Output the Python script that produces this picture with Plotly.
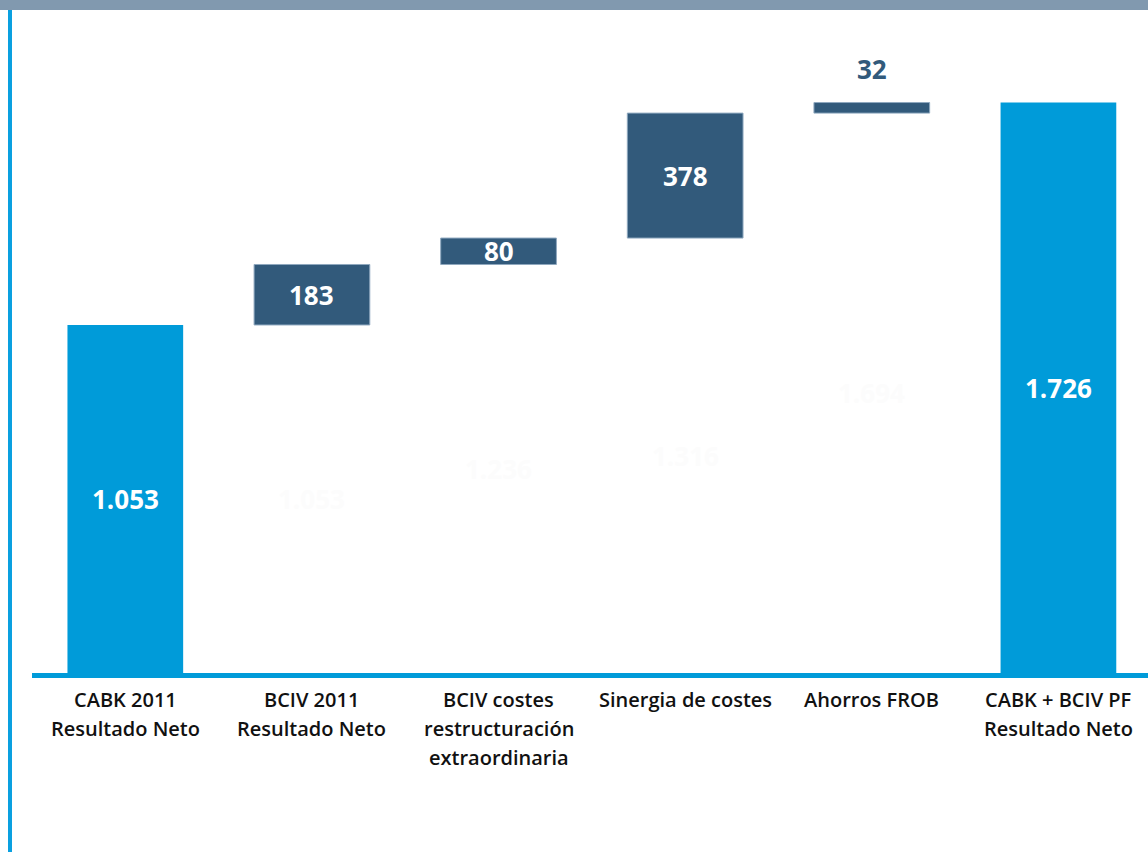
import plotly.graph_objects as go

categories = ["CABK 2011<br>Resultado Neto", "BCIV 2011<br>Resultado Neto",
              "BCIV costes<br>restructuración<br>extraordinaria", "Sinergia de costes",
              "Ahorros FROB", "CABK + BCIV PF<br>Resultado Neto"]
values = [1053, 183, 80, 378, 32, 1726]
kinds = ["total", "delta", "delta", "delta", "delta", "total"]
value_labels = ["1.053", "183", "80", "378", "32", "1.726"]
hidden_base_labels = ["", "1.053", "1.236", "1.316", "1.694", ""]

LIGHT = "#009BD9"
DARK = "#325A7B"

xs = list(range(len(categories)))
bases, running = [], 0
for v, k in zip(values, kinds):
    if k == "total":
        bases.append(0)
        running = v
    else:
        bases.append(running)
        running += v

fig = go.Figure()
tot_idx = [i for i, k in enumerate(kinds) if k == "total"]
del_idx = [i for i, k in enumerate(kinds) if k == "delta"]
fig.add_trace(go.Bar(x=[xs[i] for i in tot_idx], y=[values[i] for i in tot_idx],
                     base=[0 for i in tot_idx], width=0.62,
                     marker=dict(color=LIGHT, line=dict(width=0)), hoverinfo="skip"))
fig.add_trace(go.Bar(x=[xs[i] for i in del_idx], y=[values[i] for i in del_idx],
                     base=[bases[i] for i in del_idx], width=0.62,
                     marker=dict(color=DARK, line=dict(color="#8FA8BF", width=1)), hoverinfo="skip"))

ann = []
for i in xs:
    mid = bases[i] + values[i] / 2
    if values[i] < 60:
        ann.append(dict(x=i, y=bases[i] + values[i], yref="y", text=value_labels[i], showarrow=False,
                        yanchor="bottom", yshift=14,
                        font=dict(family="Open Sans", size=26, color=DARK, weight="bold")))
    else:
        ann.append(dict(x=i, y=mid, yref="y", text=value_labels[i], showarrow=False,
                        font=dict(family="Open Sans", size=26, color="white", weight="bold")))
    if hidden_base_labels[i]:
        ann.append(dict(x=i, y=bases[i] / 2, yref="y", text=hidden_base_labels[i], showarrow=False,
                        font=dict(family="Open Sans", size=26, color="#fcfcfc", weight="bold")))
    # category labels, line by line
    for j, line in enumerate(categories[i].split("<br>")):
        ann.append(dict(x=i, y=0, yref="y", text=line, showarrow=False, yanchor="middle",
                        yshift=-26 - 29 * j,
                        font=dict(family="Open Sans", size=20, color="#111111", weight=600)))

H = 663
fig.update_layout(
    width=1148, height=852, margin=dict(l=32, r=0, t=10, b=179),
    paper_bgcolor="white", plot_bgcolor="white", showlegend=False, barmode="overlay",
    xaxis=dict(range=[-0.5, 5.48], showticklabels=False, showgrid=False, zeroline=False, fixedrange=True),
    yaxis=dict(range=[0, 2006], showticklabels=False, showgrid=False, zeroline=False, fixedrange=True),
    annotations=ann,
    shapes=[
        dict(type="rect", xref="paper", yref="paper", x0=-32 / 1116, x1=1.01, y0=1, y1=1 + 10 / H,
             fillcolor="#8199AF", line=dict(width=0), layer="above"),
        dict(type="rect", xref="paper", yref="paper", x0=-24 / 1116, x1=-20 / 1116, y0=-179 / H, y1=1,
             fillcolor="#0AA0E0", line=dict(width=0)),
        dict(type="rect", xref="paper", yref="paper", x0=0, x1=1.01, y0=-5 / H, y1=0,
             fillcolor="#009BD9", line=dict(width=0), layer="above"),
    ],
)
fig.write_html("out.html", config={"displayModeBar": False},
               post_script="document.body.style.margin='0';document.body.style.overflow='hidden';")
